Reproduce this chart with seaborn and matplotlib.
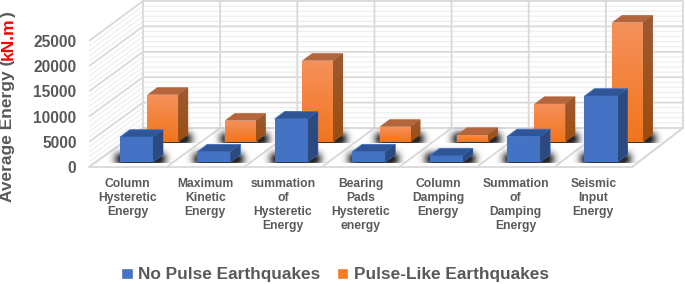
import numpy as np
import matplotlib
matplotlib.use("Agg")
import matplotlib.pyplot as plt
import seaborn as sns
from matplotlib.colors import LinearSegmentedColormap
from matplotlib.patches import Patch, Polygon

categories = [
    "Column\nHysteretic\nEnergy",
    "Maximum\nKinetic\nEnergy",
    "summation\nof\nHysteretic\nEnergy",
    "Bearing\nPads\nHysteretic\nenergy",
    "Column\nDamping\nEnergy",
    "Summation\nof\nDamping\nEnergy",
    "Seismic\nInput\nEnergy",
]
no_pulse = [4900, 2000, 8500, 2000, 1200, 5000, 13000]
pulse_like = [9300, 4200, 16000, 3000, 1400, 7500, 23500]
y_ticks = [0, 5000, 10000, 15000, 20000, 25000]

W, H = 685, 284
GREY = "#595959"

sns.set_theme(style="white")
plt.rcParams["font.family"] = ["Liberation Sans", "DejaVu Sans"]
plt.rcParams["font.weight"] = "bold"

fig = plt.figure(figsize=(W / 100, H / 100), dpi=100, facecolor="white")


def axes_px(left, right, bottom, top, z):
    # position given in picture pixels, y counted from the top
    ax = fig.add_axes([left / W, 1 - bottom / H, (right - left) / W, (bottom - top) / H])
    ax.set_zorder(z)
    ax.patch.set_visible(False)
    return ax


# 3D box: walls and floor, in pixel coordinates
canvas = axes_px(0, W, H, 0, 0)
canvas.set_xlim(0, W)
canvas.set_ylim(H, 0)
canvas.axis("off")

fx0, fx1, fy0, ftop = 89, 632, 167, 41
bx0, bx1, by0, btop = 143, 683, 128, 1
LINE = "#D9D9D9"
for v in range(0, 25001, 1000):
    yf = fy0 + (ftop - fy0) * v / 25000
    yb = by0 + (btop - by0) * v / 25000
    major = v % 5000 == 0
    c, lw = (LINE, 1.3) if major else ("#EFEFEF", 0.9)
    canvas.plot([fx0, bx0, bx1], [yf, yb, yb], color=c, lw=lw, solid_capstyle="butt")
for i in range(8):
    xf = fx0 + (fx1 - fx0) * i / 7
    xb = bx0 + (bx1 - bx0) * i / 7
    canvas.plot([xf, xb, xb], [fy0, by0, btop], color=LINE, lw=1.3)
canvas.plot([fx0, fx1, bx1], [fy0, fy0, by0], color=LINE, lw=1.3)

# frame axes only carries the ticks and category labels
frame = axes_px(fx0, fx1, fy0, ftop, 1)
frame.set_xlim(-0.5, 6.5)
frame.set_ylim(0, 25000)
frame.set_xticks(range(7), categories, fontsize=8.7, color=GREY, linespacing=1.22, va="top")
frame.set_yticks(y_ticks, [str(v) for v in y_ticks], fontsize=11.2, color=GREY)
frame.tick_params(axis="x", length=0, pad=8)
frame.tick_params(axis="y", length=0, pad=9)
for s in frame.spines.values():
    s.set_visible(False)


def gradient(ax, clip, extent, top, bottom):
    cmap = LinearSegmentedColormap.from_list("g", [top, bottom])
    im = ax.imshow(np.linspace(0, 1, 64).reshape(-1, 1), extent=extent, aspect="auto",
                   cmap=cmap, origin="upper", zorder=3)
    im.set_clip_path(clip)


def draw_series(ax, values, color, width, c_top, c_side, c_edge, face=None):
    sns.barplot(x=categories, y=values, color=color, width=width, saturation=1, ax=ax)
    ax.set_xlim(-0.5, 6.5)
    ax.set_ylim(0, 25000)
    dx = 10 / 77.5
    dy = 7.5 / 127 * 25000
    for bar in list(ax.patches):
        l, r, h = bar.get_x(), bar.get_x() + bar.get_width(), bar.get_height()
        side = Polygon([(r, 0), (r + dx, dy), (r + dx, h + dy), (r, h)], closed=True,
                       fc=c_side[0], ec=c_edge, lw=0.7, zorder=2, clip_on=False)
        top = Polygon([(l, h), (l + dx, h + dy), (r + dx, h + dy), (r, h)], closed=True,
                      fc=c_top, ec=c_edge, lw=0.7, zorder=2, clip_on=False)
        ax.add_patch(side)
        ax.add_patch(top)
        gradient(ax, side, (r, r + dx, 0, h + dy), c_side[0], c_side[1])
        if face:
            gradient(ax, bar, (l, r, 0, h), face[0], face[1])
        else:
            bar.set_edgecolor(c_edge)
            bar.set_linewidth(0.7)
    ax.set_xlim(-0.5, 6.5)
    ax.set_ylim(0, 25000)
    ax.axis("off")


ax_back = axes_px(124, 666, 142, 15, 2)
draw_series(ax_back, pulse_like, "#F47B20", 0.40, "#B5653C", ("#9C5A33", "#9C4E0F"), "none",
            face=("#F5915C", "#F2751C"))
ax_front = axes_px(97.7, 639.7, 162, 35.5, 3)
draw_series(ax_front, no_pulse, "#4472C4", 0.427, "#2F5597", ("#2C4A80", "#2C4A80"), "#4472C4")

# soft shadows on the floor, placed from the drawn bars, cut off at the bar base
fig.canvas.draw()
t = np.arange(-12, 13)
kernel = np.exp(-t ** 2 / (2 * 4.0 ** 2))
kernel /= kernel.sum()
shade = np.zeros((H, W))
for ax, reach in ((ax_back, 8), (ax_front, 8)):
    for bar in ax.patches[:7]:
        box = bar.get_window_extent()
        x0, x1, base = int(box.x0), int(box.x1), int(H - box.y0)
        mask = np.zeros((H, W))
        mask[base - reach:base + 2, x0 - 3:x1 + 13] = 1
        blur = np.apply_along_axis(lambda r: np.convolve(r, kernel, "same"), 1, mask)
        blur = np.apply_along_axis(lambda c: np.convolve(c, kernel, "same"), 0, blur)
        blur[base + 1:] = 0
        shade = np.maximum(shade, blur)
rgba = np.zeros((H, W, 4))
rgba[..., 3] = np.clip(shade * 1.25, 0, 0.85)
canvas.imshow(rgba, extent=(0, W, H, 0), aspect="auto", zorder=5, interpolation="bilinear")
canvas.set_xlim(0, W)
canvas.set_ylim(H, 0)

# y title with the unit in red, pieces stacked along the rotated text
renderer = fig.canvas.get_renderer()
y_pos = 202
for piece, col in (("Average Energy (", GREY), ("kN.m", "red"), (")", GREY)):
    txt = fig.text(8 / W, 1 - y_pos / H, piece, rotation=90, color=col, fontsize=12.5,
                   ha="center", va="bottom", rotation_mode="default")
    y_pos -= txt.get_window_extent(renderer).height

handles = [Patch(fc="#4472C4"), Patch(fc="#F47B20")]
fig.legend(handles, ["No Pulse Earthquakes", "Pulse-Like Earthquakes"], loc="center",
           bbox_to_anchor=(335 / W, 1 - 275 / H), ncol=2, frameon=False, fontsize=12.4,
           labelcolor=GREY, handlelength=0.65, handleheight=0.65, handletextpad=0.3,
           columnspacing=1.0, borderpad=0, borderaxespad=0)

fig.savefig("out.png", dpi=100)
